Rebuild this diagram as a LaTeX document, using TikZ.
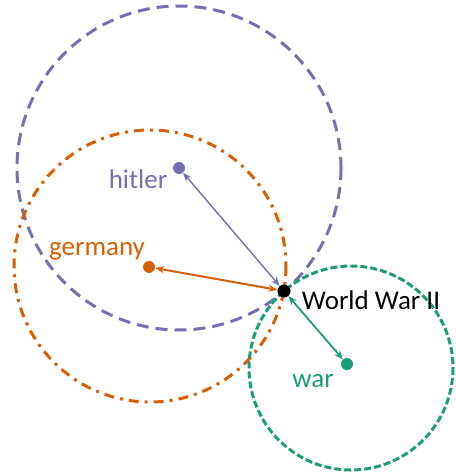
\documentclass[tikz,border=0pt]{standalone}
\usepackage{fontspec}
\setmainfont{Carlito}
\usetikzlibrary{arrows.meta}
\definecolor{hitlerc}{HTML}{7570B3}
\definecolor{germanyc}{HTML}{D95F02}
\definecolor{warc}{HTML}{1B9E77}

\begin{document}
\begin{tikzpicture}[x=1pt,y=-1pt,
  dot/.style={circle,fill,inner sep=0pt,minimum size=12pt},
  lbl/.style={anchor=base,inner sep=0pt,font=\fontsize{27}{31}\selectfont},
  dist/.style={{Stealth[length=9pt,width=7pt]}-{Stealth[length=9pt,width=7pt]}}]
\useasboundingbox (0,0) rectangle (455,473);
% neighbourhoods
\draw[hitlerc,line width=3,dash pattern=on 12pt off 7pt] (179,168) circle[radius=162];
\draw[germanyc,line width=3,dash pattern=on 10pt off 6pt on 3pt off 6pt] (150,266) circle[radius=136];
\draw[warc,line width=3,dash pattern=on 7pt off 3pt] (351,368) circle[radius=102];
% points
\node[dot,hitlerc] (h) at (179,168) {};
\node[dot,germanyc] (g) at (149,267) {};
\node[dot,warc] (w) at (347,364) {};
\node[dot,black,minimum size=13pt] (ww) at (284,291) {};
% labels
\node[lbl,hitlerc] (hl) at (138,188) {hitler};
\node[lbl,germanyc] (gl) at (97,255) {germany};
\node[lbl,warc] (wl) at (313,387) {war};
\node[lbl,black] (wwl) at (371,309) {World War II};
% distances
\draw[hitlerc,line width=1.4,dist] (ww) -- (h);
\draw[germanyc,line width=2,dist] (ww) -- (g);
\draw[warc,line width=1.8,dist] (ww) -- (w);
\end{tikzpicture}
\end{document}
